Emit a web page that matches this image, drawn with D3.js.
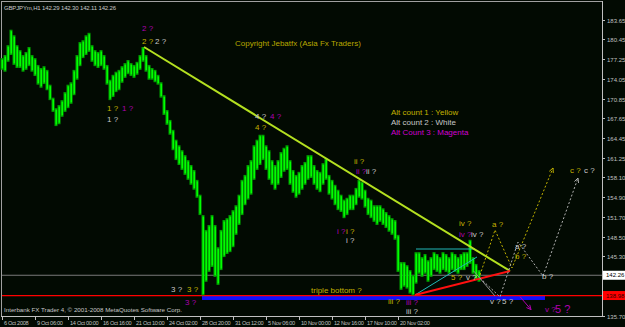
<!DOCTYPE html>
<html><head><meta charset="utf-8">
<script src="https://cdn.jsdelivr.net/npm/d3@7"></script>
<style>
html,body{margin:0;padding:0;background:#020a02;}
svg{display:block;}
text{font-family:"Liberation Sans",Arial,sans-serif;}
</style></head><body>
<svg id="c" width="625" height="327"></svg>
<script>
// ---- data (GBPJPYm H1, grouped 6 bars per column) ----
const barHigh=[177.4,177.9,179.5,182.0,181.1,179.5,178.7,177.9,178.4,179.2,177.9,177.4,176.3,175.8,176.1,175.5,173.1,171.0,169.3,169.8,
170.6,171.9,173.1,173.5,175.5,177.9,180.0,180.3,181.1,181.5,179.5,178.7,178.4,178.7,177.9,176.3,173.9,174.7,175.2,175.5,
176.1,176.6,177.1,176.6,176.3,176.8,177.9,179.2,177.9,176.3,175.8,175.5,174.7,173.5,171.4,169.0,167.4,165.8,164.2,163.3,
162.5,161.7,160.9,160.1,159.3,157.7,155.3,152.0,149.6,150.4,152.0,150.4,146.8,149.6,151.2,151.5,152.0,152.8,153.6,155.3,
157.7,158.5,160.1,160.9,163.3,164.2,165.0,165.0,163.3,162.5,160.9,160.1,160.9,162.2,162.9,163.3,160.9,159.3,158.5,159.0,
160.1,160.6,161.7,161.7,160.1,159.3,159.0,160.4,161.2,158.5,157.7,156.9,156.1,155.3,154.5,154.8,155.3,155.3,156.4,157.7,
157.4,156.1,154.8,154.5,153.6,153.6,153.6,153.1,152.5,152.0,151.5,151.2,148.8,144.4,144.4,143.9,143.1,142.3,146.0,146.0,
145.2,145.7,144.7,145.2,146.0,145.7,145.2,146.0,145.7,145.2,146.0,145.7,145.2,145.7,146.0,146.0,148.0,145.2,144.1,143.1];
const barLow=[175.5,175.2,176.8,177.9,176.3,175.8,175.8,175.2,175.5,176.1,175.2,174.5,173.1,172.6,173.2,172.2,170.6,168.7,166.4,166.7,
167.9,168.7,169.3,170.0,171.4,173.9,176.1,177.4,177.9,178.4,176.8,176.1,175.8,176.1,175.5,173.1,170.6,171.1,171.9,172.2,
173.4,174.2,174.8,174.5,174.2,174.7,175.5,176.8,175.2,173.9,173.9,173.5,173.1,171.0,168.2,166.6,165.0,162.5,160.9,160.1,
159.3,158.5,157.7,156.9,156.1,154.8,152.0,139.0,141.2,142.8,143.6,142.0,140.7,143.1,145.2,145.7,146.0,146.8,148.8,150.4,
152.0,153.6,154.5,155.3,157.7,159.3,160.1,160.9,159.3,157.7,156.9,156.1,156.9,158.0,159.0,159.3,156.9,155.6,154.8,155.3,
156.1,156.9,157.7,158.0,156.9,156.1,155.7,156.9,157.7,155.3,154.5,153.6,152.8,152.5,151.5,152.0,152.8,152.8,153.6,154.8,
154.5,153.2,152.0,151.5,150.9,150.4,150.9,150.4,149.9,149.3,148.8,148.0,142.8,139.9,140.4,140.1,139.3,139.0,140.9,142.5,
142.0,142.5,141.2,142.0,143.1,142.8,142.5,143.1,142.8,142.5,143.1,142.8,142.5,143.1,143.1,143.6,144.1,142.5,141.5,141.2];
const hoursPerColumn=6;
const timeLabels=["6 Oct 2008","9 Oct 06:00","14 Oct 00:00","16 Oct 16:00","21 Oct 10:00","24 Oct 02:00","28 Oct 20:00","31 Oct 12:00","5 Nov 06:00","10 Nov 00:00","12 Nov 16:00","17 Nov 10:00","20 Nov 02:00"];
const hoursPerLabel=66;
const priceTicks=[183.65,180.45,177.25,174.05,170.85,167.65,164.45,161.25,158.10,154.90,151.70,148.50,145.30,135.70];
const priceTickLabels=["183.65","180.45","177.25","174.05","170.85","167.65","164.45","161.25","158.10","154.90","151.70","148.50","145.30","135.70"];
const lastPrice=142.26;
const supportPrice=138.98;
const titleText="GBPJPYm,H1  142.29 142.30 142.11 142.26";

// ---- annotations (bar index, price) ----
const YEL="#c2b200", WHT="#c8c8c8", MAG="#b000b0";
const waveLabels=[
 ["2 ?",280,181.78,MAG],["2 ?",280,179.68,YEL],["2 ?",306,179.68,WHT],
 ["1 ?",210,168.84,YEL],["1 ?",240,168.84,MAG],["1 ?",210,167.06,WHT],
 ["4 ?",506,167.55,WHT],["4 ?",536,167.55,MAG],["4 ?",506,165.77,YEL],
 ["ii ?",704,160.26,YEL],["ii ?",708,158.65,MAG],["ii ?",728,158.65,WHT],
 ["i ?",670,148.94,MAG],["i ?",688,148.94,YEL],["i ?",688,147.48,WHT],
 ["3 ?",338,139.55,WHT],["3 ?",370,139.55,YEL],["3 ?",366,137.45,MAG],
 ["iii ?",772,137.61,YEL],["iii ?",808,137.50,MAG],["iii ?",808,136.05,WHT],
 ["iv ?",914,150.23,YEL],["iv ?",914,148.45,MAG],["iv ?",938,148.45,WHT],
 ["5 ?",898,141.50,YEL],["v ?",928,141.50,WHT],
 ["v ?",976,137.61,WHT],["5 ?",1000,137.61,WHT],
 ["a ?",980,150.07,YEL],["a ?",1026,146.51,WHT],["b ?",1026,144.89,YEL],
 ["b ?",1080,141.66,WHT],["c ?",1136,158.81,YEL],["c ?",1164,158.81,WHT],
 ["v ?",1086,136.32,MAG]
];
const bigLabels=[["5 ?",1106,136.16,MAG]];
const mainTrend=[[284,179.20],[1016,142.95]];
const redTrend=[[826,139.07],[1016,142.95]];
const cyanTop=[[828,146.51],[946,146.51]];
const cyanDiag=[[826,139.07],[950,145.22]];
const yellowPath=[[956,142.30],[986,149.59],[1020,143.44],[1102,159.62]];
const whitePath=[[956,141.82],[996,138.75],[1032,147.64],[1082,142.14],[1152,158.00]];
const grayDrop=[[944,142.9],[986,138.9]];
const magArrow=[[1036,138.8],[1058,136.7]];
const bandBars=[400,1086];
const bandPrices=[138.91,138.26];

// ---- drawing ----
const svg=d3.select("#c");
const L=2,R=602,T=2,B=316;
const x=d3.scaleLinear().domain([0,1200]).range([L,R]);
const y=d3.scaleLinear().domain([135.70,183.65]).range([315.8,19.5]);
svg.append("rect").attr("width",625).attr("height",327).attr("fill","#020a02");

// frame
svg.append("line").attr("x1",L).attr("x2",R).attr("y1",1.5).attr("y2",1.5).attr("stroke","#a0a0a0");
svg.append("line").attr("x1",1.5).attr("x2",1.5).attr("y1",1).attr("y2",B).attr("stroke","#a0a0a0");
svg.append("line").attr("x1",R+0.5).attr("x2",R+0.5).attr("y1",1).attr("y2",B+1).attr("stroke","#c0c0c0");
svg.append("line").attr("x1",1).attr("x2",R+1).attr("y1",B+0.5).attr("y2",B+0.5).attr("stroke","#c0c0c0");

// y axis
const yAxis=svg.append("g");
priceTicks.forEach((p,i)=>{
  const yy=Math.round(y(p))+0.5;
  yAxis.append("line").attr("x1",R).attr("x2",R+3).attr("y1",yy).attr("y2",yy).attr("stroke","#c0c0c0");
  yAxis.append("text").attr("x",R+5).attr("y",yy+2.2).attr("fill","#c0c0c0").attr("font-size","6px").text(priceTickLabels[i]);
});
// x axis
const xAxis=svg.append("g");
timeLabels.forEach((t,i)=>{
  const xx=Math.round(x(i*hoursPerLabel))+0.5;
  xAxis.append("line").attr("x1",xx).attr("x2",xx).attr("y1",B).attr("y2",B+4).attr("stroke","#c0c0c0");
  xAxis.append("text").attr("x",xx+1.5).attr("y",325).attr("fill","#c0c0c0").attr("font-size","5.6px")
    .attr("letter-spacing","-0.3px").text(t);
});

// horizontal lines
svg.append("line").attr("x1",L).attr("x2",R).attr("y1",y(lastPrice)).attr("y2",y(lastPrice)).attr("stroke","#7a7a7a").attr("stroke-width",1);
svg.append("rect").attr("x",x(bandBars[0])).attr("width",x(bandBars[1])-x(bandBars[0]))
  .attr("y",y(bandPrices[0])).attr("height",y(bandPrices[1])-y(bandPrices[0])).attr("fill","#1010ff");
svg.append("line").attr("x1",L).attr("x2",R).attr("y1",y(supportPrice)).attr("y2",y(supportPrice)).attr("stroke","#ff0000").attr("stroke-width",1.2);

// price bars
const cols=barHigh.map((h,i)=>({i,h,l:barLow[i]}));
svg.append("g").selectAll("line").data(cols).join("line")
  .attr("x1",d=>x(d.i*hoursPerColumn)).attr("x2",d=>x(d.i*hoursPerColumn))
  .attr("y1",d=>y(d.h)).attr("y2",d=>y(d.l))
  .attr("stroke","#00a000").attr("stroke-width",3);
svg.append("g").selectAll("line").data(cols).join("line")
  .attr("x1",d=>x(d.i*hoursPerColumn)+0.3).attr("x2",d=>x(d.i*hoursPerColumn)+0.3)
  .attr("y1",d=>y(d.h)+1.5).attr("y2",d=>y(d.l)-1.5)
  .attr("stroke","#00ff00").attr("stroke-width",1.6);

const ln=d3.line().x(d=>x(d[0])).y(d=>y(d[1]));
svg.append("path").attr("d",ln(cyanTop)).attr("stroke","#20b8b8").attr("fill","none");
svg.append("path").attr("d",ln(cyanDiag)).attr("stroke","#20b8b8").attr("fill","none");
svg.append("path").attr("d",ln(mainTrend)).attr("stroke","#b4e020").attr("stroke-width",2).attr("fill","none");
svg.append("path").attr("d",ln(redTrend)).attr("stroke","#ff1010").attr("stroke-width",2).attr("fill","none");
svg.append("path").attr("d",ln(yellowPath)).attr("stroke",YEL).attr("stroke-dasharray","2,2").attr("fill","none");
svg.append("path").attr("d",ln(whitePath)).attr("stroke","#b0b0b0").attr("stroke-dasharray","2,2").attr("fill","none");
svg.append("path").attr("d",ln(grayDrop)).attr("stroke","#909090").attr("fill","none");
svg.append("path").attr("d",ln(magArrow)).attr("stroke",MAG).attr("fill","none");
// arrowheads
function arrowHead(p,q,col){
  const x1=x(p[0]),y1=y(p[1]),x2=x(q[0]),y2=y(q[1]);
  const a=Math.atan2(y2-y1,x2-x1),s=5;
  const pts=[[x2-s*Math.cos(a-0.45),y2-s*Math.sin(a-0.45)],[x2,y2],[x2-s*Math.cos(a+0.45),y2-s*Math.sin(a+0.45)]];
  svg.append("path").attr("d",d3.line()(pts)).attr("stroke",col).attr("fill","none");
}
arrowHead(magArrow[0],magArrow[1],MAG);
arrowHead(yellowPath[2],yellowPath[3],YEL);
arrowHead(whitePath[3],whitePath[4],"#b0b0b0");

// labels
svg.append("g").selectAll("text").data(waveLabels).join("text")
  .attr("x",d=>x(d[1])).attr("y",d=>y(d[2])).attr("fill",d=>d[3]).attr("font-size","8px").text(d=>d[0]);
svg.append("g").selectAll("text").data(bigLabels).join("text")
  .attr("x",d=>x(d[1])).attr("y",d=>y(d[2])).attr("fill",d=>d[3]).attr("font-size","11px").text(d=>d[0]);

svg.append("text").attr("x",4).attr("y",10).attr("fill","#c8c8c8").attr("font-size","6px").attr("letter-spacing","-0.15px").text(titleText);
svg.append("text").attr("x",235).attr("y",46).attr("fill","#b8a800").attr("font-size","8px").text("Copyright Jebatfx (Asia Fx Traders)");
svg.append("text").attr("x",391).attr("y",115).attr("fill",YEL).attr("font-size","8px").text("Alt count 1 : Yellow");
svg.append("text").attr("x",391).attr("y",125).attr("fill",WHT).attr("font-size","8px").text("Alt count 2 : White");
svg.append("text").attr("x",391).attr("y",135).attr("fill","#d000d0").attr("font-size","8px").text("Alt Count 3 : Magenta");
svg.append("text").attr("x",311).attr("y",293).attr("fill",YEL).attr("font-size","8px").text("triple bottom ?");
svg.append("text").attr("x",4).attr("y",312).attr("fill","#c8c8c8").attr("font-size","6.2px").text("Interbank FX Trader 4, \u00a9 2001-2008 MetaQuotes Software Corp.");

// price boxes
function priceBox(p,bg,fg,txt){
  const yy=y(p);
  svg.append("rect").attr("x",R+1).attr("y",yy-4.5).attr("width",22).attr("height",9).attr("fill",bg);
  svg.append("text").attr("x",R+4).attr("y",yy+2.2).attr("fill",fg).attr("font-size","6px").text(txt);
}
priceBox(lastPrice,"#ffffff","#000000","142.26");
priceBox(supportPrice,"#ff0000","#300000","138.98");
</script>
</body></html>
